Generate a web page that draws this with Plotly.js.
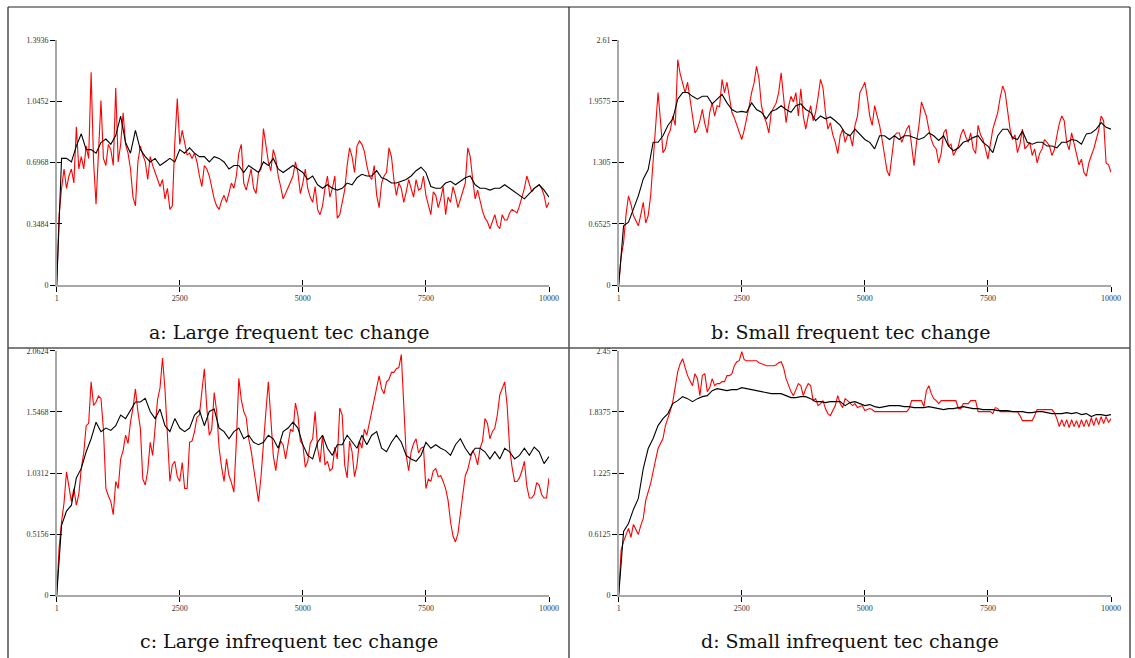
<!DOCTYPE html>
<html>
<head>
<meta charset="utf-8">
<script src="https://cdn.plot.ly/plotly-3.0.1.min.js"></script>
<style>
html,body{margin:0;padding:0;background:#fff;}
#chart{width:1135px;height:658px;}
</style>
</head>
<body>
<div id="chart"></div>
<script>
// Step grid (x axis) and the half-steps used by the noisier red series
const steps = [1,100,200,300,400,500,600,700,800,900,1000,1100,1200,1300,1400,1500,1600,1700,1800,1900,2000,2100,2200,2300,2400,2500,2600,2700,2800,2900,3000,3100,3200,3300,3400,3500,3600,3700,3800,3900,4000,4100,4200,4300,4400,4500,4600,4700,4800,4900,5000,5100,5200,5300,5400,5500,5600,5700,5800,5900,6000,6100,6200,6300,6400,6500,6600,6700,6800,6900,7000,7100,7200,7300,7400,7500,7600,7700,7800,7900,8000,8100,8200,8300,8400,8500,8600,8700,8800,8900,9000,9100,9200,9300,9400,9500,9600,9700,9800,9900,10000];
const halfSteps = [50,150,250,350,450,550,650,750,850,950,1050,1150,1250,1350,1450,1550,1650,1750,1850,1950,2050,2150,2250,2350,2450,2550,2650,2750,2850,2950,3050,3150,3250,3350,3450,3550,3650,3750,3850,3950,4050,4150,4250,4350,4450,4550,4650,4750,4850,4950,5050,5150,5250,5350,5450,5550,5650,5750,5850,5950,6050,6150,6250,6350,6450,6550,6650,6750,6850,6950,7050,7150,7250,7350,7450,7550,7650,7750,7850,7950,8050,8150,8250,8350,8450,8550,8650,8750,8850,8950,9050,9150,9250,9350,9450,9550,9650,9750,9850,9950];

// Panel a: Large frequent tec change
const redA = [0,0.55,0.55,0.66,0.90,0.73,0.79,1.21,0.46,1.05,0.68,0.77,1.12,0.80,0.80,0.66,0.45,0.79,0.70,0.73,0.64,0.56,0.49,0.43,0.81,0.80,0.80,0.75,0.75,0.62,0.68,0.62,0.49,0.43,0.51,0.53,0.55,0.75,0.58,0.60,0.55,0.64,0.89,0.70,0.77,0.62,0.49,0.55,0.62,0.64,0.58,0.55,0.47,0.43,0.45,0.62,0.55,0.38,0.47,0.68,0.73,0.79,0.80,0.68,0.60,0.51,0.58,0.64,0.73,0.51,0.55,0.53,0.55,0.60,0.55,0.51,0.40,0.51,0.49,0.40,0.47,0.51,0.49,0.58,0.73,0.49,0.47,0.38,0.32,0.40,0.32,0.37,0.41,0.42,0.45,0.55,0.58,0.55,0.57,0.51,0.47];
const redAHalf = [0.40,0.66,0.62,0.58,0.66,0.66,0.72,0.70,0.75,0.72,0.80,0.68,0.70,0.98,0.75,0.50,0.70,0.74,0.60,0.68,0.60,0.60,0.55,0.45,1.06,0.88,0.74,0.72,0.70,0.56,0.66,0.55,0.45,0.48,0.47,0.58,0.62,0.80,0.54,0.66,0.52,0.66,0.78,0.65,0.72,0.56,0.52,0.58,0.70,0.52,0.66,0.50,0.56,0.40,0.55,0.50,0.62,0.40,0.54,0.78,0.64,0.82,0.76,0.62,0.68,0.44,0.62,0.78,0.60,0.58,0.47,0.60,0.50,0.54,0.62,0.46,0.53,0.44,0.56,0.50,0.56,0.44,0.53,0.78,0.60,0.54,0.42,0.36,0.36,0.34,0.40,0.37,0.43,0.41,0.50,0.62,0.53,0.56,0.55,0.44];
const blackA = [0,0.72,0.72,0.70,0.79,0.86,0.77,0.77,0.75,0.81,0.83,0.80,0.85,0.96,0.81,0.75,0.88,0.77,0.73,0.70,0.72,0.68,0.70,0.72,0.70,0.77,0.75,0.78,0.75,0.73,0.73,0.70,0.73,0.72,0.70,0.66,0.68,0.68,0.64,0.68,0.66,0.64,0.70,0.68,0.72,0.66,0.64,0.66,0.68,0.66,0.64,0.60,0.62,0.57,0.55,0.57,0.55,0.54,0.55,0.58,0.57,0.61,0.63,0.62,0.62,0.65,0.61,0.60,0.58,0.58,0.59,0.60,0.62,0.65,0.67,0.64,0.56,0.55,0.55,0.58,0.59,0.57,0.59,0.61,0.62,0.57,0.55,0.55,0.54,0.55,0.55,0.57,0.55,0.53,0.51,0.49,0.52,0.55,0.57,0.54,0.50];

// Panel b: Small frequent tec change
const redB = [0,0.45,0.95,0.74,0.63,0.88,0.74,1.30,2.05,1.41,1.59,1.80,2.40,2.16,2.16,1.80,1.66,1.87,1.62,1.94,1.91,2.19,2.16,1.84,1.70,1.55,1.77,2.05,2.33,1.91,1.73,1.84,1.94,2.26,1.73,2.01,2.05,2.09,1.66,1.91,1.84,2.19,1.84,1.73,1.52,1.59,1.52,1.59,1.70,2.05,2.16,1.80,1.91,1.70,1.38,1.16,1.59,1.62,1.59,1.70,1.27,1.70,1.87,1.66,1.48,1.30,1.62,1.48,1.38,1.48,1.66,1.52,1.45,1.70,1.55,1.34,1.66,1.84,2.12,1.84,1.55,1.41,1.66,1.48,1.38,1.30,1.45,1.52,1.38,1.59,1.80,1.52,1.62,1.38,1.34,1.16,1.38,1.55,1.80,1.30,1.20];
const redBHalf = [0.30,0.75,0.86,0.68,0.75,0.66,0.95,1.75,1.75,1.45,1.65,1.70,2.25,2.05,1.95,1.62,1.75,1.72,1.84,1.80,1.90,2.05,2.00,1.78,1.62,1.65,1.90,2.15,2.20,1.80,1.62,1.90,2.05,2.00,1.90,1.95,1.80,1.80,1.80,1.75,2.00,2.10,1.66,1.60,1.40,1.66,1.60,1.48,1.80,2.10,2.00,1.70,1.80,1.55,1.22,1.40,1.62,1.52,1.66,1.45,1.52,1.95,1.80,1.55,1.45,1.40,1.66,1.50,1.44,1.60,1.58,1.62,1.40,1.60,1.45,1.50,1.75,2.00,2.05,1.66,1.60,1.50,1.45,1.52,1.45,1.40,1.55,1.48,1.44,1.72,1.75,1.44,1.50,1.28,1.20,1.30,1.45,1.65,1.75,1.28];
const blackB = [0,0.63,0.67,0.81,0.95,1.13,1.23,1.52,1.52,1.59,1.70,1.77,1.98,2.05,2.05,2.01,1.98,2.01,2.01,1.93,1.98,2.03,1.94,1.87,1.84,1.85,1.84,1.94,1.87,1.84,1.77,1.85,1.87,1.91,1.87,1.84,1.91,1.93,1.87,1.84,1.75,1.80,1.77,1.79,1.75,1.70,1.62,1.59,1.66,1.61,1.55,1.52,1.45,1.59,1.59,1.55,1.59,1.55,1.59,1.59,1.57,1.55,1.57,1.62,1.59,1.54,1.59,1.48,1.43,1.46,1.52,1.54,1.57,1.59,1.52,1.48,1.41,1.59,1.66,1.66,1.57,1.55,1.64,1.52,1.50,1.52,1.52,1.48,1.48,1.46,1.52,1.52,1.55,1.54,1.50,1.61,1.62,1.66,1.73,1.68,1.66];

// Panel c: Large infrequent tec change
const redC = [0,0.62,1.04,0.79,0.76,1.07,1.43,1.80,1.63,1.66,0.90,0.79,0.96,1.15,1.35,1.46,1.74,1.41,0.93,1.29,1.41,1.75,1.74,0.96,1.13,0.96,0.90,1.29,1.38,1.52,1.91,1.35,1.71,1.24,0.96,1.01,0.87,1.83,1.55,1.32,1.07,0.79,1.24,1.80,1.18,1.21,1.27,1.29,1.38,1.52,1.27,1.13,1.32,1.24,1.35,1.13,1.07,1.15,1.52,0.99,1.21,1.10,1.24,1.35,1.52,1.74,1.74,1.80,1.88,1.91,2.03,1.18,1.21,1.32,1.24,0.90,0.96,1.07,1.01,0.90,0.62,0.45,0.71,1.01,1.15,1.18,1.24,1.49,1.32,1.41,1.69,1.80,1.24,0.96,0.99,1.13,0.82,0.85,0.93,0.82,0.99];
const redCHalf = [0.40,0.78,0.90,0.90,0.85,1.20,1.45,1.60,1.68,1.40,0.84,0.68,0.90,1.22,1.28,1.58,1.55,0.98,1.05,1.18,1.65,2.00,1.30,1.10,1.00,1.12,0.90,1.30,1.50,1.72,1.58,1.40,1.55,1.08,1.15,0.95,1.30,1.65,1.50,1.22,0.95,1.00,1.55,1.45,1.05,1.30,1.15,1.40,1.62,1.30,1.08,1.28,1.55,1.12,1.10,1.05,1.25,1.58,1.10,1.30,1.00,1.30,1.40,1.45,1.62,1.85,1.70,1.82,1.88,1.92,1.55,1.05,1.28,1.20,1.25,0.98,1.05,1.00,0.96,0.80,0.50,0.52,0.85,1.06,1.22,1.10,1.30,1.45,1.38,1.52,1.75,1.60,1.08,0.96,1.05,0.92,0.82,0.95,0.85,0.82];
const blackC = [0,0.59,0.71,0.76,0.99,1.07,1.21,1.32,1.46,1.38,1.41,1.39,1.43,1.52,1.49,1.56,1.63,1.63,1.66,1.55,1.49,1.57,1.43,1.38,1.49,1.41,1.38,1.41,1.52,1.56,1.43,1.55,1.57,1.41,1.38,1.32,1.38,1.41,1.32,1.35,1.29,1.27,1.29,1.35,1.32,1.24,1.38,1.41,1.46,1.41,1.27,1.18,1.15,1.29,1.35,1.24,1.18,1.27,1.27,1.35,1.29,1.24,1.35,1.27,1.35,1.38,1.24,1.21,1.29,1.35,1.29,1.18,1.15,1.13,1.18,1.29,1.24,1.27,1.24,1.22,1.18,1.27,1.32,1.24,1.18,1.24,1.24,1.21,1.15,1.21,1.15,1.24,1.21,1.15,1.18,1.24,1.18,1.25,1.21,1.11,1.17];

// Panel d: Small infrequent tec change
const redD = [0,0.54,0.67,0.71,0.61,0.77,1.04,1.24,1.47,1.57,1.77,1.94,2.24,2.37,2.20,2.10,2.17,2.20,2.04,2.17,2.12,2.14,2.20,2.22,2.34,2.44,2.35,2.35,2.35,2.32,2.30,2.30,2.31,2.34,2.17,2.04,2.07,2.10,2.07,2.10,1.97,1.92,1.87,1.80,1.90,1.92,1.97,1.92,1.92,1.89,1.85,1.87,1.84,1.84,1.84,1.84,1.84,1.84,1.84,1.87,1.95,1.95,1.89,2.10,1.97,1.92,1.95,1.95,1.95,1.87,1.92,1.92,1.95,1.84,1.84,1.84,1.82,1.87,1.84,1.84,1.84,1.84,1.75,1.75,1.75,1.86,1.86,1.86,1.86,1.77,1.76,1.76,1.76,1.75,1.76,1.76,1.78,1.78,1.79,1.79,1.77];
const redDHalf = [0.45,0.60,0.58,0.66,0.70,0.95,1.12,1.35,1.52,1.70,1.85,2.10,2.32,2.28,2.15,2.22,2.00,2.22,2.08,2.10,2.12,2.14,2.20,2.30,2.35,2.36,2.35,2.35,2.33,2.31,2.30,2.30,2.33,2.28,2.10,2.00,2.12,2.00,2.12,1.95,1.90,1.95,1.82,1.85,2.00,1.88,1.95,1.90,1.88,1.90,1.86,1.86,1.84,1.84,1.84,1.84,1.84,1.84,1.84,1.95,1.95,1.95,2.05,2.02,1.95,1.95,1.95,1.95,1.95,1.87,1.92,1.95,1.95,1.84,1.84,1.84,1.88,1.84,1.84,1.84,1.84,1.80,1.75,1.75,1.80,1.86,1.86,1.86,1.83,1.69,1.69,1.68,1.69,1.68,1.69,1.69,1.70,1.71,1.72,1.73];
const blackD = [0,0.64,0.72,0.86,0.97,1.27,1.47,1.57,1.70,1.77,1.82,1.92,1.95,1.99,1.97,1.94,1.97,1.99,2.00,2.05,2.07,2.06,2.05,2.06,2.06,2.08,2.07,2.06,2.05,2.04,2.03,2.02,2.02,2.02,2.00,1.98,1.98,1.99,1.99,1.97,1.94,1.94,1.93,1.94,1.94,1.94,1.90,1.93,1.94,1.92,1.90,1.91,1.89,1.88,1.89,1.90,1.90,1.90,1.89,1.89,1.88,1.88,1.88,1.89,1.88,1.87,1.86,1.87,1.87,1.88,1.89,1.88,1.87,1.87,1.86,1.86,1.86,1.85,1.85,1.85,1.84,1.84,1.84,1.83,1.83,1.84,1.84,1.83,1.82,1.82,1.82,1.83,1.82,1.83,1.81,1.82,1.79,1.81,1.81,1.80,1.81];

const yMax = {a:1.3936, b:2.61, c:2.0624, d:2.45};
const yTickText = {
  a:['0','0.3484','0.6968','1.0452','1.3936'],
  b:['0','0.6525','1.305','1.9575','2.61'],
  c:['0','0.5156','1.0312','1.5468','2.0624'],
  d:['0','0.6125','1.225','1.8375','2.45']
};
const xTickVals = [1,2500,5000,7500,10000];
const xTickText = ['1','2500','5000','7500','10000'];
const captions = {
  a:'a: Large frequent tec change',
  b:'b: Small frequent tec change',
  c:'c: Large infrequent tec change',
  d:'d: Small infrequent tec change'
};

// interleave whole steps and half steps into one ordered series
function merge(xs1, ys1, xs2, ys2) {
  const pts = [];
  xs1.forEach((x,i) => pts.push([x, ys1[i]]));
  xs2.forEach((x,i) => pts.push([x, ys2[i]]));
  pts.sort((p,q) => p[0]-q[0]);
  return {x: pts.map(p=>p[0]), y: pts.map(p=>p[1])};
}

const W = 1135, H = 658;
const px = v => v / W;
const py = v => (H - v) / H;
const panels = [
  {k:'a', red:redA, redH:redAHalf, black:blackA, xd:[px(56.7),px(549)], yd:[py(285),py(40)], cap:[289,332]},
  {k:'b', red:redB, redH:redBHalf, black:blackB, xd:[px(618.7),px(1111)], yd:[py(285),py(40)], cap:[850,332]},
  {k:'c', red:redC, redH:redCHalf, black:blackC, xd:[px(56.7),px(549)], yd:[py(595.3),py(350.7)], cap:[289,641]},
  {k:'d', red:redD, redH:redDHalf, black:blackD, xd:[px(618.7),px(1111)], yd:[py(595.3),py(350.7)], cap:[850,641]}
];

const tickFont = {family:'Liberation Serif, Times New Roman, serif', size:8, color:'#333'};
const traces = [];
const layout = {
  width:W, height:H,
  margin:{l:0,r:0,t:0,b:0},
  paper_bgcolor:'#fff', plot_bgcolor:'rgba(0,0,0,0)',
  showlegend:false,
  shapes:[], annotations:[]
};

panels.forEach((p,i) => {
  const n = i+1;
  const xa = n===1 ? 'x' : 'x'+n;
  const ya = n===1 ? 'y' : 'y'+n;
  const r = merge(steps, p.red, halfSteps, p.redH);
  traces.push({x:r.x, y:r.y, xaxis:xa, yaxis:ya, mode:'lines', line:{color:'#ff0000', width:1.1}, hoverinfo:'skip'});
  traces.push({x:steps, y:p.black, xaxis:xa, yaxis:ya, mode:'lines', line:{color:'#000', width:1.1}, hoverinfo:'skip'});
  const ymax = yMax[p.k];
  const yvals = [0, ymax/4, ymax/2, 3*ymax/4, ymax];
  layout['xaxis'+(n===1?'':n)] = {
    domain:p.xd, range:[1,10000], anchor:ya,
    showgrid:false, zeroline:false, showline:true, linecolor:'#a8a8a8', linewidth:1.5,
    ticks:'outside', ticklen:5, tickwidth:1, tickcolor:'#000',
    tickmode:'array', tickvals:xTickVals, ticktext:xTickText, tickfont:tickFont, fixedrange:true
  };
  layout['yaxis'+(n===1?'':n)] = {
    domain:p.yd, range:[0,ymax], anchor:xa,
    showgrid:false, zeroline:false, showline:true, linecolor:'#a8a8a8', linewidth:1.5,
    ticks:'outside', ticklen:5, tickwidth:1, tickcolor:'#000',
    tickmode:'array', tickvals:yvals, ticktext:yTickText[p.k], tickfont:tickFont, fixedrange:true
  };
  // overlay axes for the inner half of the crossing tick marks
  const on = n+4;
  layout['xaxis'+on] = {domain:p.xd, range:[1,10000], anchor:'y'+on, overlaying:xa,
    showgrid:false, zeroline:false, showline:false, ticks:'inside', ticklen:5, tickwidth:1, tickcolor:'#000',
    tickmode:'array', tickvals:xTickVals, showticklabels:false, fixedrange:true};
  layout['yaxis'+on] = {domain:p.yd, range:[0,ymax], anchor:'x'+on, overlaying:ya,
    showgrid:false, zeroline:false, showline:false, ticks:'inside', ticklen:5, tickwidth:1, tickcolor:'#000',
    tickmode:'array', tickvals:yvals, showticklabels:false, fixedrange:true};
  traces.push({x:[], y:[], xaxis:'x'+on, yaxis:'y'+on, mode:'lines', hoverinfo:'skip'});
  layout.annotations.push({
    text:captions[p.k], xref:'paper', yref:'paper', x:px(p.cap[0]), y:py(p.cap[1]),
    xanchor:'center', yanchor:'middle', showarrow:false,
    font:{family:'DejaVu Serif, serif', size:19, color:'#111'}
  });
});

// table borders
const bl = {color:'#222', width:1.2};
layout.shapes.push(
  {type:'line', xref:'paper', yref:'paper', x0:px(8), x1:px(1130), y0:py(7), y1:py(7), line:bl},
  {type:'line', xref:'paper', yref:'paper', x0:px(8), x1:px(8), y0:py(7), y1:py(660), line:bl},
  {type:'line', xref:'paper', yref:'paper', x0:px(1130), x1:px(1130), y0:py(7), y1:py(660), line:bl},
  {type:'line', xref:'paper', yref:'paper', x0:px(569), x1:px(569), y0:py(7), y1:py(660), line:bl},
  {type:'line', xref:'paper', yref:'paper', x0:px(8), x1:px(1130), y0:py(348), y1:py(348), line:{color:'#555', width:1.6}}
);

Plotly.newPlot('chart', traces, layout, {staticPlot:true, displayModeBar:false});
</script>
</body>
</html>
